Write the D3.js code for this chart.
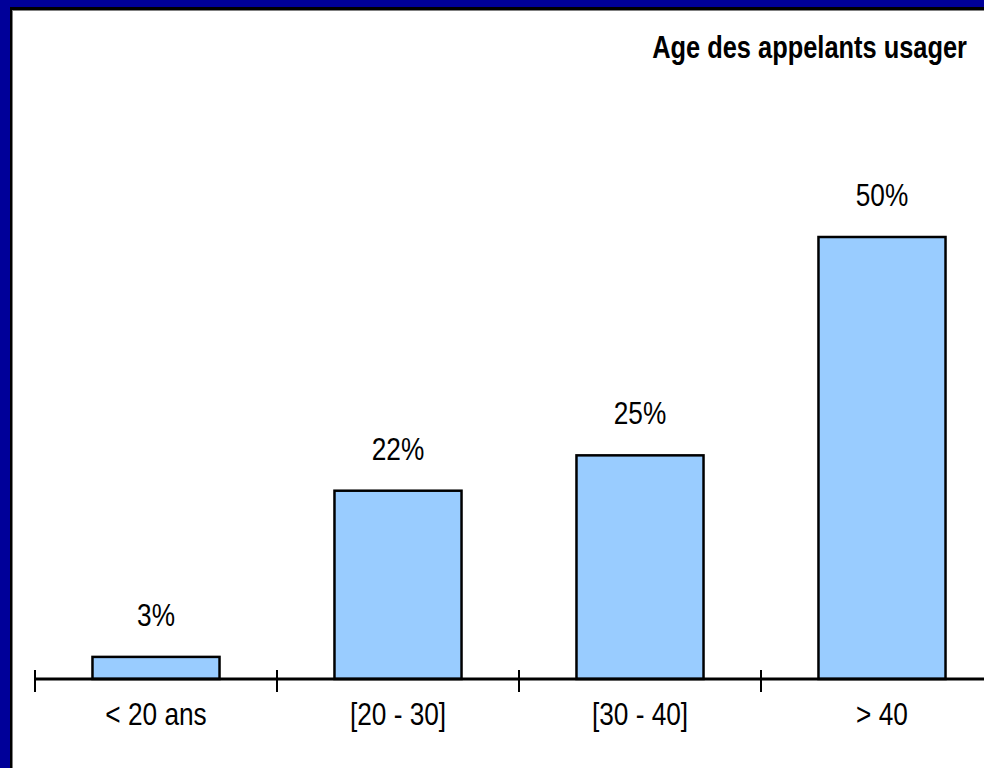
<!DOCTYPE html>
<html>
<head>
<meta charset="utf-8">
<script src="https://cdn.jsdelivr.net/npm/d3@7"></script>
<style>
  html, body { margin: 0; padding: 0; background: #000099; }
  svg { display: block; }
  text { font-family: "Liberation Sans", Arial, sans-serif; }
</style>
</head>
<body>
<svg id="chart" width="984" height="768"></svg>
<script>
const categories = ["< 20 ans", "[20 - 30]", "[30 - 40]", "> 40"];
const values = [2.5, 21.3, 25.3, 50.0];
const valueLabels = ["3%", "22%", "25%", "50%"];
const title = "Age des appelants usager";

const svg = d3.select("#chart");
const W = 984, H = 768;
const NARROW = 0.82;

// frame
svg.append("rect").attr("x", 0).attr("y", 0).attr("width", W).attr("height", H).attr("fill", "#000099");
svg.append("rect").attr("x", 10).attr("y", 7).attr("width", W - 10).attr("height", H - 7).attr("fill", "#000000");
svg.append("rect").attr("x", 12).attr("y", 10).attr("width", W - 12).attr("height", H - 10).attr("fill", "#808080");
svg.append("rect").attr("x", 13).attr("y", 11).attr("width", W - 13).attr("height", H - 11).attr("fill", "#ffffff");

const baseY = 679;
const x = d3.scaleBand().domain(categories).range([35, 35 + 4 * 242]).paddingInner(0.475).paddingOuter(0.2375);
const y = d3.scaleLinear().domain([0, 50]).range([baseY, 237]);

// bars
svg.append("g").selectAll("rect").data(values).join("rect")
  .attr("x", (d, i) => x(categories[i]))
  .attr("y", d => y(d))
  .attr("width", x.bandwidth())
  .attr("height", d => baseY - y(d))
  .attr("fill", "#99ccff")
  .attr("stroke", "#000")
  .attr("stroke-width", 2.5);

// axis
const xOuter = d3.scaleBand().domain(categories).range([35, 35 + 4 * 242]);
const axis = d3.axisBottom(xOuter).tickSize(0).tickFormat(d => d);
const gAxis = svg.append("g").attr("transform", `translate(0,${baseY})`).call(axis);
gAxis.select(".domain").attr("stroke", "#000").attr("stroke-width", 3).attr("d", `M34,0H${W}`);
gAxis.selectAll(".tick text")
  .attr("y", 0).attr("dy", 0)
  .attr("transform", `translate(0,46) scale(${NARROW},1)`)
  .attr("fill", "#000").attr("font-size", 32)
  .style("font-family", '"Liberation Sans", Arial, sans-serif');

// tick marks at band boundaries
const boundaries = categories.map(c => xOuter(c)).concat([xOuter(categories[3]) + xOuter.bandwidth()]);
svg.append("g").selectAll("line").data(boundaries).join("line")
  .attr("x1", d => d).attr("x2", d => d)
  .attr("y1", baseY - 9).attr("y2", baseY + 13)
  .attr("stroke", "#000").attr("stroke-width", 2);

// value labels
svg.append("g").selectAll("text").data(values).join("text")
  .attr("transform", (d, i) => `translate(${x(categories[i]) + x.bandwidth() / 2},${y(d) - 31}) scale(${NARROW},1)`)
  .attr("text-anchor", "middle")
  .attr("font-size", 32)
  .attr("fill", "#000")
  .text((d, i) => valueLabels[i]);

// title
svg.append("text")
  .attr("transform", `translate(967,58) scale(${NARROW},1)`)
  .attr("text-anchor", "end")
  .attr("font-size", 31)
  .attr("font-weight", "bold")
  .attr("fill", "#000")
  .text(title);
</script>
</body>
</html>
